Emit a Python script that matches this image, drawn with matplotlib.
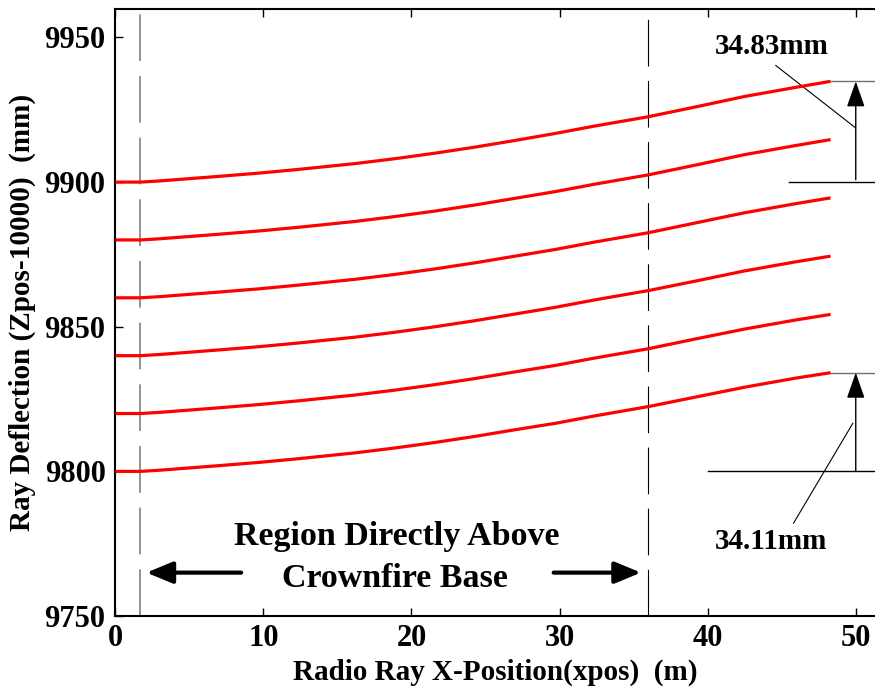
import matplotlib
matplotlib.use("Agg")
import matplotlib.pyplot as plt
from matplotlib.patches import FancyArrowPatch

# Ray x-positions (m) at which the deflection was sampled
x_pos = [0.0, 1.7, 3.0, 6.8, 9.7, 12.4, 16.2, 18.9, 21.6, 24.3, 27.0,
         29.7, 32.4, 36.0, 39.2, 42.5, 45.9, 48.3]

# Ray deflection (Zpos-10000, mm) for six launch heights
ray_9900 = [9900.0, 9900.0, 9900.4, 9901.9, 9903.1, 9904.4, 9906.4, 9908.1,
            9910.0, 9912.1, 9914.4, 9916.8, 9919.4, 9922.6, 9926.0, 9929.6,
            9932.7, 9934.83]
ray_9880 = [9880.0, 9880.0, 9880.4, 9881.9, 9883.1, 9884.4, 9886.4, 9888.1,
            9890.0, 9892.1, 9894.4, 9896.7, 9899.3, 9902.5, 9905.9, 9909.5,
            9912.6, 9914.69]
ray_9860 = [9860.0, 9860.0, 9860.4, 9861.9, 9863.1, 9864.4, 9866.4, 9868.1,
            9870.0, 9872.1, 9874.4, 9876.7, 9879.3, 9882.5, 9885.9, 9889.4,
            9892.5, 9894.55]
ray_9840 = [9840.0, 9840.0, 9840.4, 9841.9, 9843.1, 9844.4, 9846.4, 9848.1,
            9850.0, 9852.1, 9854.4, 9856.7, 9859.3, 9862.5, 9865.8, 9869.3,
            9872.4, 9874.40]
ray_9820 = [9820.0, 9820.0, 9820.4, 9821.9, 9823.1, 9824.4, 9826.4, 9828.1,
            9830.0, 9832.1, 9834.4, 9836.6, 9839.2, 9842.4, 9845.8, 9849.2,
            9852.3, 9854.26]
ray_9800 = [9800.0, 9800.0, 9800.4, 9801.9, 9803.1, 9804.4, 9806.4, 9808.1,
            9810.0, 9812.1, 9814.4, 9816.6, 9819.2, 9822.4, 9825.7, 9829.1,
            9832.2, 9834.11]
rays = [ray_9900, ray_9880, ray_9860, ray_9840, ray_9820, ray_9800]

x_ticks = [0, 10, 20, 30, 40, 50]
y_ticks = [9750, 9800, 9850, 9900, 9950]

# Bounds of the region directly above the crownfire base (m)
region_x = [1.7, 36.0]

# Total rise of the highest and lowest rays (mm)
rise_top = 34.83
rise_bottom = 34.11

plt.rcParams['font.family'] = ['Liberation Serif', 'DejaVu Serif']
plt.rcParams['font.weight'] = 'bold'

fig = plt.figure(figsize=(8.75, 6.92), dpi=100)
ax = fig.add_axes([0.1318, 0.1098, 0.8682, 0.8779])
ax.set_xlim(0, 51.3)
ax.set_ylim(9750, 9960)

for ray in rays:
    ax.plot(x_pos, ray, color='#ff0000', lw=2.3, solid_capstyle='butt',
            solid_joinstyle='round', zorder=3)

# Region boundaries
ax.axvline(region_x[0], color='#808080', lw=1.2,
           linestyle=(0, (28, 9)), zorder=2)
ax.axvline(region_x[1], color='black', lw=0.8,
           linestyle=(0, (42, 13)), zorder=2)

ax.set_xticks(x_ticks)
ax.set_yticks(y_ticks)
ax.tick_params(direction='in', length=6, width=1.0, top=True, right=False,
               labelsize=22, pad=6)
ax.tick_params(axis='y', pad=7)
for s in ['left', 'bottom', 'top']:
    ax.spines[s].set_linewidth(1.5)
ax.spines['right'].set_visible(False)

ax.set_xlabel('Radio Ray X-Position(xpos)  (m)', fontsize=21,
              fontweight='bold', labelpad=4)
ax.set_ylabel('Ray Deflection (Zpos-10000)  (mm)', fontsize=21,
              fontweight='bold', labelpad=6)

# Region caption with arrows pointing to its bounds
ax.text(19.0, 9777.5, 'Region Directly Above', ha='center', va='center',
        fontsize=24.5, fontweight='bold')
ax.text(18.9, 9763.0, 'Crownfire Base', ha='center', va='center',
        fontsize=24.5, fontweight='bold')
for x0, x1 in [(8.5, 2.1), (29.6, 35.5)]:
    ax.add_patch(FancyArrowPatch((x0, 9765.0), (x1, 9765.0),
                                 arrowstyle='-|>,head_length=0.8,head_width=0.33',
                                 mutation_scale=20, lw=3.0, color='black',
                                 shrinkA=0, shrinkB=0))

x_end = x_pos[-1]
x_arrow = 50.0
x_edge = 51.3

# Rise of the highest ray
top_end = ray_9900[-1]
top_base = ray_9900[0]
ax.plot([x_end, x_edge], [top_end, top_end], color='#707070', lw=1.0,
        clip_on=False)
ax.plot([45.5, x_edge], [top_base, top_base], color='black', lw=1.0,
        clip_on=False)
ax.add_patch(FancyArrowPatch((x_arrow, top_base + 0.8), (x_arrow, top_end),
                             arrowstyle='-|>,head_length=0.8,head_width=0.28',
                             mutation_scale=20, lw=1.0, color='black',
                             shrinkA=0, shrinkB=0))
ax.plot([44.6, 50.0], [9940.3, 9918.7], color='black', lw=0.8)
ax.text(44.3, 9947.0, f'{rise_top:.2f}mm', ha='center', va='center',
        fontsize=21, fontweight='bold')

# Rise of the lowest ray
bot_end = ray_9800[-1]
bot_base = ray_9800[0]
ax.plot([x_end, x_edge], [bot_end, bot_end], color='#707070', lw=1.0,
        clip_on=False)
ax.plot([40.0, x_edge], [bot_base, bot_base], color='black', lw=1.0,
        clip_on=False)
ax.add_patch(FancyArrowPatch((x_arrow, bot_base), (x_arrow, bot_end),
                             arrowstyle='-|>,head_length=0.8,head_width=0.28',
                             mutation_scale=20, lw=1.0, color='black',
                             shrinkA=0, shrinkB=0))
ax.plot([45.8, 49.8], [9782.1, 9816.6], color='black', lw=0.8)
ax.text(44.3, 9775.8, f'{rise_bottom:.2f}mm', ha='center', va='center',
        fontsize=21, fontweight='bold')

fig.savefig('out.png', dpi=100)
